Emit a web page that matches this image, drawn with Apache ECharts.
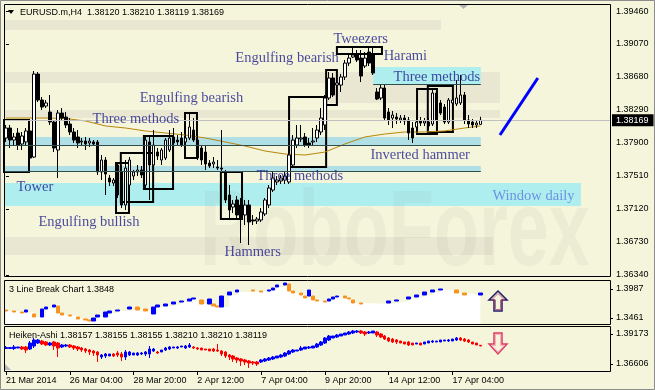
<!DOCTYPE html>
<html><head><meta charset="utf-8">
<script src="https://cdn.jsdelivr.net/npm/echarts@6/dist/echarts.min.js"></script>
<style>html,body{margin:0;padding:0;background:#f5f5dc;}#c{width:655px;height:390px;}</style>
</head><body><div id="c"></div>
<script>
// ---------- data ----------
const tickLabels = ["21 Mar 2014","26 Mar 04:00","28 Mar 20:00","2 Apr 12:00","7 Apr 04:00","9 Apr 20:00","14 Apr 12:00","17 Apr 04:00"];
const barsPerLabel = 16;
const slotCount = 152;
const priceTicks = [1.39460,1.39070,1.38680,1.38290,1.37900,1.37510,1.37120,1.36730,1.36340];
const lbTicks = [1.3987,1.3461];
const haTicks = [1.39173,1.36606];
const headerQuote = [1.38120,1.38210,1.38119,1.38169];
const lbLast = 1.3848;
const haLast = [1.38157,1.38155,1.38155,1.38210,1.38210,1.38119];
const bidPrice = 1.38169;

// main candles [open, close, low, high]
const candles = [
[1.37959,1.38077,1.37912,1.38113],[1.38077,1.37935,1.37841,1.38113],[1.37935,1.37971,1.37876,1.38018],[1.38018,1.37876,1.37817,1.38077],
[1.37888,1.37983,1.37817,1.38030],[1.37912,1.38042,1.37876,1.38077],[1.38042,1.37722,1.37699,1.38124],[1.37734,1.38715,1.37722,1.38751],
[1.38715,1.38408,1.38384,1.38739],[1.38408,1.38325,1.38290,1.38444],[1.38337,1.38373,1.38313,1.38408],[1.38266,1.38148,1.38113,1.38467],
[1.38148,1.37841,1.37793,1.38172],[1.37817,1.38254,1.37486,1.38290],[1.38254,1.38195,1.38160,1.38313],[1.38207,1.38113,1.38077,1.38266],
[1.38124,1.38030,1.37994,1.38195],[1.38030,1.37935,1.37900,1.38077],[1.37971,1.37900,1.37841,1.38053],[1.37912,1.37923,1.37864,1.37959],
[1.37923,1.37888,1.37817,1.37971],[1.37900,1.37923,1.37853,1.37959],[1.37912,1.37888,1.37864,1.37935],[1.37912,1.37557,1.37522,1.37935],
[1.37557,1.37699,1.37462,1.37758],[1.37699,1.37533,1.37285,1.37734],[1.37486,1.37439,1.37392,1.37522],[1.37427,1.37462,1.37392,1.37486],
[1.37640,1.37285,1.37250,1.37675],[1.37557,1.37167,1.37131,1.37640],[1.37167,1.37604,1.37108,1.37699],[1.37403,1.37699,1.37344,1.37734],
[1.37510,1.37557,1.37462,1.37581],[1.37557,1.37581,1.37510,1.37640],[1.37581,1.37522,1.37486,1.37628],[1.37403,1.37935,1.37344,1.37994],
[1.37912,1.37640,1.37226,1.37971],[1.37640,1.37876,1.37581,1.38053],[1.37793,1.37746,1.37699,1.37841],[1.37699,1.37817,1.37640,1.37841],
[1.37722,1.37935,1.37699,1.37959],[1.37817,1.37959,1.37793,1.38053],[1.37971,1.37900,1.37864,1.38077],[1.37935,1.37912,1.37876,1.37994],
[1.37959,1.37876,1.37853,1.38030],[1.37912,1.37959,1.37864,1.38053],[1.37959,1.38089,1.37935,1.38254],[1.38053,1.37935,1.37912,1.38195],
[1.37935,1.37722,1.37699,1.37983],[1.37841,1.37699,1.37640,1.37876],[1.37793,1.37652,1.37581,1.37864],[1.37663,1.37628,1.37604,1.37699],
[1.37652,1.37675,1.37604,1.37734],[1.37616,1.37604,1.37581,1.37699],[1.37604,1.37592,1.37569,1.38053],[1.37557,1.37226,1.37191,1.37581],
[1.37285,1.37108,1.36990,1.37403],[1.37143,1.37179,1.37072,1.37226],[1.37226,1.37049,1.37013,1.37273],[1.37167,1.37013,1.36718,1.37250],
[1.37049,1.37167,1.36931,1.37226],[1.37167,1.36966,1.36694,1.37226],[1.36990,1.36978,1.36931,1.37049],[1.36978,1.37001,1.36942,1.37025],
[1.36990,1.37084,1.36966,1.37131],[1.37061,1.37226,1.37037,1.37250],[1.37167,1.37368,1.37131,1.37403],[1.37344,1.37486,1.37321,1.37557],
[1.37439,1.37462,1.37403,1.37510],[1.37451,1.37486,1.37415,1.37522],[1.37462,1.37510,1.37415,1.37557],[1.37439,1.37758,1.37415,1.37817],
[1.37640,1.37935,1.37604,1.37994],[1.37876,1.37959,1.37841,1.38113],[1.37947,1.37959,1.37912,1.38113],[1.37971,1.37876,1.37853,1.38018],
[1.37900,1.37876,1.37841,1.37959],[1.37912,1.37923,1.37864,1.38077],[1.37959,1.38053,1.37912,1.38113],[1.38030,1.38195,1.37994,1.38313],
[1.38113,1.38432,1.38053,1.38467],[1.38432,1.38668,1.38408,1.38739],[1.38668,1.38467,1.38444,1.38727],[1.38585,1.38609,1.38503,1.38668],
[1.38585,1.38680,1.38503,1.38715],[1.38680,1.38845,1.38644,1.38881],[1.38845,1.38904,1.38810,1.38952],[1.38916,1.38940,1.38904,1.39046],
[1.38940,1.38881,1.38857,1.38999],[1.38904,1.38692,1.38621,1.38999],[1.38810,1.38904,1.38786,1.38975],[1.38975,1.38845,1.38810,1.39023],
[1.38940,1.38727,1.38704,1.39023],[1.38503,1.38420,1.38408,1.38550],[1.38432,1.38550,1.38408,1.38585],[1.38550,1.38195,1.38172,1.38597],
[1.38266,1.38172,1.38113,1.38313],[1.38195,1.38231,1.38077,1.38278],[1.38207,1.38183,1.38124,1.38254],[1.38172,1.38195,1.38136,1.38231],
[1.38195,1.38160,1.38113,1.38231],[1.38172,1.38018,1.37935,1.38207],[1.38077,1.37959,1.37900,1.38148],[1.38089,1.38148,1.38030,1.38195],
[1.38160,1.38136,1.38101,1.38207],[1.38136,1.38160,1.38101,1.38195],[1.38148,1.38101,1.38053,1.38195],[1.38124,1.38491,1.38101,1.38526],
[1.38491,1.38172,1.38136,1.38526],[1.38373,1.38254,1.38231,1.38408],[1.38325,1.38148,1.38124,1.38361],[1.38148,1.38408,1.38124,1.38432],
[1.38373,1.38408,1.38337,1.38467],[1.38361,1.38432,1.38337,1.38644],[1.38373,1.38467,1.38349,1.38704],[1.38467,1.38172,1.38124,1.38503],
[1.38172,1.38124,1.38077,1.38231],[1.38148,1.38113,1.38077,1.38183],[1.38113,1.38136,1.38077,1.38172],[1.38120,1.38169,1.38119,1.38210]
];

// moving average, sampled [barIndex, value]
const maPoints = [[0,1.38195],[5,1.38195],[10,1.38195],[15,1.38189],[20,1.38160],[25,1.38101],[30,1.38077],[35,1.38042],[40,1.38018],
[45,1.37994],[50,1.37959],[55,1.37912],[60,1.37864],[65,1.37805],[70,1.37770],[75,1.37758],[80,1.37793],[85,1.37888],[90,1.37971],
[95,1.38006],[100,1.38030],[105,1.38030],[110,1.38042],[115,1.38077],[119,1.38101]];

// 3 line break bricks
const lbIdx = [0,2,4,5,7,9,10,12,13,14,16,18,20,21,22,23,25,26,28,31,33,35,37,38,40,42,44,46,47,49,51,52,53,54,56,58,62,64,66,67,68,70,71,72,74,75,76,77,78,80,81,82,83,85,86,87,89,96,98,101,103,105,107,109,113,115,119];
const lbDir = [-1,-1,-1,1,-1,1,1,1,-1,-1,-1,-1,-1,-1,1,1,1,1,1,1,-1,-1,1,1,1,1,1,1,1,-1,1,-1,-1,1,1,1,-1,-1,1,1,1,1,-1,-1,-1,-1,1,-1,-1,-1,1,1,1,-1,-1,-1,-1,1,1,1,1,1,1,1,-1,-1,1];
const lbTop = [1.36061,1.35880,1.35698,1.36061,1.35336,1.36242,1.36605,1.36968,1.36787,1.35517,1.35154,1.34791,1.34428,1.34247,1.34610,1.35154,1.35698,1.35880,1.36061,1.36605,1.36605,1.36242,1.36605,1.36968,1.37149,1.37512,1.37693,1.38056,1.38238,1.37875,1.38056,1.37149,1.36787,1.38600,1.39326,1.39689,1.39689,1.39507,1.39689,1.40051,1.40596,1.40958,1.40777,1.39507,1.39144,1.38600,1.39689,1.38600,1.37875,1.37693,1.38056,1.38419,1.38600,1.38600,1.38238,1.37875,1.37331,1.37693,1.37875,1.38419,1.38782,1.39326,1.39689,1.39870,1.39689,1.39144,1.39144];
const lbBot = [1.35880,1.35698,1.35517,1.35698,1.34791,1.34791,1.36242,1.36605,1.35517,1.35154,1.34973,1.34428,1.34247,1.34066,1.34066,1.34791,1.34791,1.35517,1.35880,1.36242,1.36061,1.35880,1.35336,1.36605,1.36787,1.37149,1.37512,1.37693,1.38056,1.37149,1.37149,1.36787,1.36605,1.36605,1.38782,1.39326,1.39507,1.39326,1.39507,1.39689,1.40233,1.40596,1.39507,1.39144,1.38782,1.38238,1.38600,1.37875,1.37693,1.37512,1.37693,1.38056,1.38419,1.38238,1.38056,1.37331,1.37149,1.37331,1.37693,1.38056,1.38419,1.38782,1.39326,1.39689,1.39144,1.38782,1.38782];

// Heiken-Ashi [open, close, low, high]
const haBars = [
[1.37932,1.38018,1.37889,1.38146],[1.37932,1.38018,1.37932,1.38018],[1.37932,1.38061,1.37804,1.38232],[1.37975,1.38061,1.37975,1.38061],
[1.38061,1.37889,1.37804,1.38146],[1.38061,1.37804,1.37547,1.38146],[1.37889,1.38403,1.37804,1.38574],[1.38146,1.38660,1.37975,1.38831],
[1.38403,1.38660,1.38317,1.38745],[1.38574,1.38317,1.38232,1.38660],[1.38489,1.38232,1.38146,1.38574],[1.38232,1.38403,1.38146,1.38489],
[1.38489,1.38146,1.37804,1.38574],[1.38403,1.37975,1.37205,1.38489],[1.38061,1.38232,1.37975,1.38317],[1.38146,1.38232,1.38061,1.38317],
[1.38232,1.38061,1.37975,1.38317],[1.38146,1.37975,1.37804,1.38232],[1.38061,1.37889,1.37718,1.38146],[1.37975,1.37804,1.37633,1.38061],
[1.37889,1.37718,1.37547,1.37975],[1.37804,1.37633,1.37376,1.37889],[1.37718,1.37547,1.37290,1.37804],[1.37633,1.37376,1.36777,1.37718],
[1.37205,1.37376,1.37034,1.37462],[1.37290,1.37462,1.37119,1.37547],[1.37290,1.37462,1.37290,1.37462],[1.37462,1.37290,1.37205,1.37547],
[1.37547,1.37376,1.37205,1.37718],[1.37462,1.37205,1.36862,1.37633],[1.37205,1.37633,1.36948,1.37804],[1.37376,1.37633,1.37290,1.37718],
[1.37376,1.37547,1.37376,1.37547],[1.37376,1.37547,1.37290,1.37633],[1.37462,1.37547,1.37376,1.37633],[1.37462,1.37633,1.37290,1.37718],
[1.37462,1.37889,1.37119,1.38146],[1.37718,1.37889,1.37633,1.37975],[1.37633,1.37547,1.37462,1.37718],[1.37633,1.37804,1.37633,1.37804],
[1.37804,1.37975,1.37718,1.38061],[1.37889,1.38061,1.37804,1.38146],[1.37975,1.38061,1.37975,1.38061],[1.37975,1.38061,1.37889,1.38146],
[1.38061,1.38146,1.38061,1.38146],[1.37975,1.38146,1.37889,1.38232],[1.38061,1.38232,1.37975,1.38403],[1.38061,1.37975,1.37889,1.38146],
[1.37975,1.37889,1.37804,1.38061],[1.37975,1.37804,1.37804,1.37975],[1.37889,1.37804,1.37804,1.37889],[1.37889,1.37718,1.37718,1.37889],
[1.37889,1.37718,1.37633,1.37975],[1.37804,1.37718,1.37633,1.38317],[1.37718,1.37462,1.37290,1.37804],[1.37633,1.37290,1.37119,1.37718],
[1.37376,1.37205,1.36948,1.37462],[1.37290,1.37034,1.36777,1.37376],[1.37119,1.36948,1.36691,1.37205],[1.37034,1.36862,1.36435,1.37119],
[1.36948,1.36777,1.36520,1.37034],[1.36862,1.36691,1.36264,1.36948],[1.36777,1.36691,1.36520,1.36862],[1.36777,1.36606,1.36435,1.36862],
[1.36777,1.36948,1.36691,1.37034],[1.36862,1.37034,1.36777,1.37119],[1.36948,1.37119,1.36862,1.37205],[1.37034,1.37205,1.36948,1.37290],
[1.37119,1.37290,1.37119,1.37290],[1.37205,1.37376,1.37119,1.37462],[1.37290,1.37547,1.37205,1.37633],[1.37462,1.37718,1.37376,1.37804],
[1.37633,1.37804,1.37547,1.37889],[1.37718,1.37804,1.37718,1.37804],[1.37804,1.37975,1.37718,1.38146],[1.37889,1.38061,1.37889,1.38061],
[1.37975,1.38061,1.37889,1.38146],[1.37975,1.38146,1.37975,1.38146],[1.38061,1.38317,1.37975,1.38403],[1.38232,1.38489,1.38146,1.38574],
[1.38403,1.38831,1.38317,1.38916],[1.38660,1.39002,1.38574,1.39087],[1.38831,1.39002,1.38831,1.39002],[1.38916,1.39087,1.38831,1.39173],
[1.39002,1.39173,1.39002,1.39173],[1.39087,1.39259,1.39087,1.39259],[1.39173,1.39344,1.39087,1.39430],[1.39259,1.39430,1.39173,1.39515],
[1.39344,1.39430,1.39259,1.39515],[1.39430,1.39259,1.39173,1.39515],[1.39344,1.39173,1.39002,1.39430],[1.39259,1.39344,1.39173,1.39430],
[1.39259,1.39430,1.39259,1.39430],[1.39344,1.39087,1.38916,1.39430],[1.39173,1.38916,1.38831,1.39259],[1.39002,1.38745,1.38660,1.39087],
[1.38831,1.38574,1.38489,1.38916],[1.38745,1.38489,1.38403,1.38831],[1.38660,1.38489,1.38317,1.38745],[1.38574,1.38403,1.38403,1.38574],
[1.38489,1.38317,1.38317,1.38489],[1.38489,1.38232,1.38146,1.38574],[1.38403,1.38232,1.38232,1.38403],[1.38317,1.38403,1.38317,1.38403],
[1.38403,1.38232,1.38232,1.38403],[1.38317,1.38489,1.38317,1.38489],[1.38403,1.38574,1.38403,1.38574],[1.38489,1.38574,1.38403,1.38660],
[1.38489,1.38574,1.38489,1.38574],[1.38489,1.38660,1.38489,1.38660],[1.38574,1.38660,1.38574,1.38660],[1.38574,1.38660,1.38489,1.38745],
[1.38574,1.38745,1.38574,1.38745],[1.38660,1.38831,1.38574,1.38916],[1.38831,1.38660,1.38574,1.38916],[1.38745,1.38574,1.38489,1.38831],
[1.38660,1.38489,1.38403,1.38745],[1.38489,1.38317,1.38317,1.38489],[1.38403,1.38232,1.38232,1.38403],[1.38210,1.38155,1.38119,1.38210]
];

// annotation zones in (bar index, price) space: [x1, x2, priceTop, priceBottom]
const shadeZones = [[-0.5,109.1,1.39354,1.39235],[-0.5,123.9,1.38739,1.38609],[80,123.9,1.38609,1.38373],[-0.5,123.9,1.38290,1.38195],[-0.5,122.1,1.36789,1.36576]];
const levelZones = [[-0.5,119.1,1.37971,1.37876],[-0.5,119.1,1.37628,1.37569]];
const windowZones = [[-0.5,144.2,1.37427,1.37155],[92.1,119.1,1.38798,1.38597]];
const zoneEdges = [[-0.5,119.1,1.37876],[-0.5,119.1,1.37569],[92.1,119.1,1.38597]];
const patternBoxes = [[-0.5,5.77,1.38172,1.37557],[27.6,30.85,1.37663,1.37072],[28.8,36.9,1.37782,1.37202],[34.6,41.9,1.37983,1.37356],
[44.9,47.9,1.38254,1.37722],[53.9,59.2,1.37557,1.37001],[71.0,80.3,1.38444,1.37616],[80.3,83.0,1.38763,1.38349],
[83.0,94.3,1.39034,1.38952],[103.1,108.1,1.38538,1.38006],[105.8,112.1,1.38574,1.38030]];
const trendLine = [[123.9,1.37994],[133.4,1.38668]];
const patternNotes = [["Engulfing bearish",57.4,1.38904],["Tweezers",82.0,1.39129],["Harami",94.6,1.38928],["Three methods",97.1,1.38680],
["Engulfing bearish",33.4,1.38432],["Three methods",21.6,1.38183],["Tower",2.5,1.37380],["Engulfing bullish",8.0,1.36966],
["Hammers",54.7,1.36611],["Three methods",62.7,1.37510],["Inverted hammer",91.3,1.37758]];
const windowNote = ["Window daily",121.9,1.37273];

// ---------- build ----------
const SANS = '"Liberation Sans", Arial, sans-serif';
const SERIF = '"Liberation Serif", "Times New Roman", serif';
const cats = Array.from({length: slotCount}, (_, i) => (i % barsPerLabel === 0 && tickLabels[i / barsPerLabel]) ? tickLabels[i / barsPerLabel] : '');
const showTick = (i, v) => v !== '';
const lbRows = lbIdx.map((j, k) => lbDir[k] > 0 ? [j, lbBot[k], lbTop[k], lbBot[k], lbTop[k]] : [j, lbTop[k], lbBot[k], lbBot[k], lbTop[k]]);
const lbLevel = lbIdx.map((j, k) => [j, lbBot[k]]);

const zoneArea = (z, color) => [{xAxis: z[0], yAxis: z[2], itemStyle: {color}}, {xAxis: z[1], yAxis: z[3]}];

function yAxisFor(grid, min, max, ticks, digits) {
  return {
    type: 'value', gridIndex: grid, position: 'right', min, max,
    splitLine: {show: false}, axisLine: {show: false},
    axisTick: {show: true, length: 3, lineStyle: {color: '#000'}, customValues: ticks},
    axisLabel: {margin: 6, color: '#000', fontSize: 9, fontFamily: SANS, customValues: ticks, formatter: v => v.toFixed(digits)}
  };
}

const option = {
  animation: false,
  backgroundColor: '#f5f5dc',
  textStyle: {fontFamily: SANS},
  grid: [
    {left: 4, right: 45, top: 4, height: 273},
    {left: 4, right: 45, top: 280, height: 44},
    {left: 4, right: 45, top: 326, height: 45}
  ],
  xAxis: [
    {type: 'category', gridIndex: 0, data: cats, show: false},
    {type: 'category', gridIndex: 1, data: cats, show: false},
    {type: 'category', gridIndex: 2, data: cats,
      axisLine: {show: false},
      axisTick: {show: true, alignWithLabel: true, interval: showTick, length: 4, lineStyle: {color: '#000'}},
      axisLabel: {interval: showTick, align: 'left', margin: 5, color: '#000', fontSize: 9, fontFamily: SANS},
      splitLine: {show: false}},
    {type: 'value', gridIndex: 0, min: -0.5, max: slotCount - 0.5, show: false}
  ],
  yAxis: [
    yAxisFor(0, 1.36316, 1.39543, priceTicks, 5),
    yAxisFor(1, 1.33522, 1.41502, lbTicks, 4),
    yAxisFor(2, 1.36007, 1.39858, haTicks, 5)
  ],
  series: [
    {type: 'line', xAxisIndex: 3, yAxisIndex: 0, data: [], z: 1, silent: true,
      markArea: {silent: true, data: [
        ...shadeZones.map(z => zoneArea(z, '#e9e7d1')),
        ...levelZones.map(z => zoneArea(z, '#b0e0e6')),
        ...windowZones.map(z => zoneArea(z, '#afeeee'))
      ]},
      markLine: {silent: true, symbol: ['none', 'none'], label: {show: false},
        lineStyle: {color: '#2f4f4f', width: 1, type: 'solid'},
        data: zoneEdges.map(e => [{coord: [e[0], e[2]]}, {coord: [e[1], e[2]]}])}
    },
    {type: 'line', xAxisIndex: 3, yAxisIndex: 0, data: [], z: 2, silent: true,
      markLine: {silent: true, symbol: ['none', 'none'],
        lineStyle: {color: '#c0c0c0', width: 1, type: 'solid'},
        label: {show: true, position: 'end', distance: 2, formatter: bidPrice.toFixed(5), backgroundColor: '#000', color: '#fff',
          padding: [2, 5, 1, 4], fontSize: 9, fontFamily: SANS},
        data: [[{coord: [-0.5, bidPrice]}, {coord: [slotCount - 0.5, bidPrice]}]]}
    },
    {type: 'line', xAxisIndex: 0, yAxisIndex: 0, data: maPoints, symbol: 'none', z: 3, silent: true,
      lineStyle: {color: '#b8860b', width: 1}},
    {type: 'candlestick', xAxisIndex: 0, yAxisIndex: 0, data: candles, barWidth: 3, z: 4,
      itemStyle: {color: '#ffffff', color0: '#000000', borderColor: '#000000', borderColor0: '#000000', borderWidth: 1}
    },
    {type: 'line', xAxisIndex: 3, yAxisIndex: 0, data: [], z: 5, silent: true,
      markArea: {silent: true, data: patternBoxes.map(b => [
        {xAxis: b[0], yAxis: b[2], itemStyle: {color: 'rgba(0,0,0,0)', borderColor: '#000', borderWidth: 2}},
        {xAxis: b[1], yAxis: b[3]}])},
      markLine: {silent: true, symbol: ['none', 'none'], label: {show: false},
        lineStyle: {color: '#0000ff', width: 3, type: 'solid'},
        data: [[{coord: trendLine[0]}, {coord: trendLine[1]}]]}
    },
    {type: 'scatter', xAxisIndex: 3, yAxisIndex: 0, z: 6, silent: true, symbolSize: 1,
      itemStyle: {color: 'rgba(0,0,0,0)'},
      label: {show: true, position: 'right', distance: 0, formatter: '{b}', fontFamily: SERIF, fontSize: 14.5, color: '#1c1c8c'},
      data: [
        ...patternNotes.map(n => ({name: n[0], value: [n[1], n[2]]})),
        {name: windowNote[0], value: [windowNote[1], windowNote[2]], label: {color: '#5b7be0'}}
      ]
    },
    {type: 'line', xAxisIndex: 1, yAxisIndex: 1, data: lbLevel, step: 'end', symbol: 'none', z: 2, silent: true,
      lineStyle: {width: 0}, areaStyle: {color: '#ffffff', opacity: 1, origin: 'start'}},
    {type: 'candlestick', xAxisIndex: 1, yAxisIndex: 1, data: lbRows, barWidth: 4, z: 3,
      dimensions: ['x', 'open', 'close', 'low', 'high'], encode: {x: 'x', y: ['open', 'close', 'low', 'high']},
      itemStyle: {color: '#0000ff', color0: '#f7931e', borderColor: '#0000ff', borderColor0: '#f7931e', borderWidth: 1}},
    {type: 'candlestick', xAxisIndex: 2, yAxisIndex: 2, data: haBars, barWidth: 3, z: 3,
      itemStyle: {color: '#0000ff', color0: '#ff0000', borderColor: '#0000ff', borderColor0: '#ff0000', borderWidth: 1}}
  ],
  graphic: [
    {type: 'text', x: 200, y: 235, z: 2, silent: true, scaleX: 0.684,
      style: {text: 'RoboForex', fontSize: 108, fontWeight: 'bold', fontFamily: SANS, fill: 'rgba(110,110,80,0.06)', verticalAlign: 'middle', align: 'left'}},
    {type: 'rect', z: 60, silent: true, shape: {x: 0.5, y: 0.5, width: 654, height: 389}, style: {fill: 'none', stroke: '#8c8c8c', lineWidth: 1}},
    {type: 'rect', z: 60, silent: true, shape: {x: 4.5, y: 4.5, width: 606, height: 272}, style: {fill: 'none', stroke: '#000', lineWidth: 1}},
    {type: 'rect', z: 60, silent: true, shape: {x: 4.5, y: 280.5, width: 606, height: 44}, style: {fill: 'none', stroke: '#000', lineWidth: 1}},
    {type: 'rect', z: 60, silent: true, shape: {x: 4.5, y: 326.5, width: 606, height: 45}, style: {fill: 'none', stroke: '#000', lineWidth: 1}},
    {type: 'polygon', z: 60, silent: true, shape: {points: [[8, 10], [14, 10], [11, 14]]}, style: {fill: '#000'}},
    {type: 'polygon', z: 60, silent: true, shape: {points: [[459, 5], [468, 5], [463.5, 9]]}, style: {fill: '#b4b4b4'}},
    {type: 'polygon', z: 60, silent: true, shape: {points: [[5, 364], [5, 370], [11, 370]]}, style: {fill: '#b8b8b8'}},
    {type: 'text', z: 60, silent: true, x: 20, y: 12.5,
      style: {text: 'EURUSD.m,H4  ' + headerQuote.map(v => v.toFixed(5)).join(' '), fontSize: 9, fontFamily: SANS, fill: '#000', verticalAlign: 'middle'}},
    {type: 'text', z: 60, silent: true, x: 9, y: 289.5,
      style: {text: '3 Line Break Chart ' + lbLast.toFixed(4), fontSize: 9, fontFamily: SANS, fill: '#000', verticalAlign: 'middle'}},
    {type: 'text', z: 60, silent: true, x: 9, y: 335.5,
      style: {text: 'Heiken-Ashi ' + haLast.map(v => v.toFixed(5)).join(' '), fontSize: 9, fontFamily: SANS, fill: '#000', verticalAlign: 'middle'}},
    {type: 'polygon', z: 60, silent: true,
      shape: {points: [[498, 291], [507, 300], [502, 300], [502, 311], [494, 311], [494, 300], [489, 300]]},
      style: {fill: '#f5f5dc', stroke: '#1c1c6c', lineWidth: 1.5}},
    {type: 'polygon', z: 61, silent: true,
      shape: {points: [[498, 293.5], [504.5, 300], [500.5, 300], [500.5, 309.5], [495.5, 309.5], [495.5, 300], [491.5, 300]]},
      style: {fill: 'none', stroke: '#c04060', lineWidth: 0.8}},
    {type: 'polygon', z: 60, silent: true,
      shape: {points: [[494, 333], [502, 333], [502, 344], [507, 344], [498, 354], [489, 344], [494, 344]]},
      style: {fill: '#f5f5dc', stroke: '#e03a64', lineWidth: 1.5}},
    {type: 'polygon', z: 61, silent: true,
      shape: {points: [[495.5, 334.5], [500.5, 334.5], [500.5, 345.5], [504, 345.5], [498, 352], [492, 345.5], [495.5, 345.5]]},
      style: {fill: 'none', stroke: '#f3a0b4', lineWidth: 0.8}}
  ]
};

const chart = echarts.init(document.getElementById('c'), null, {renderer: 'canvas'});
chart.setOption(option);
</script>
</body></html>
